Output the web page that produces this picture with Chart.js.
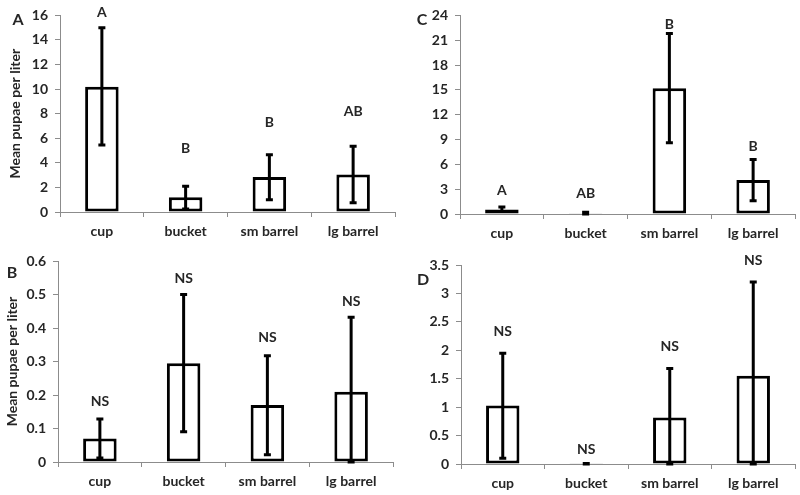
<!DOCTYPE html>
<html>
<head>
<meta charset="utf-8">
<script src="https://cdn.jsdelivr.net/npm/chart.js@4.4.0/dist/chart.umd.min.js"></script>
<style>
  body { margin: 0; background: #fff; }
  #wrap { position: relative; width: 800px; height: 495px; }
  .panel { position: absolute; }
</style>
</head>
<body>
<div id="wrap">
  <div class="panel" style="left:0;top:0;width:400px;height:245px"><canvas id="chartA"></canvas></div>
  <div class="panel" style="left:400px;top:0;width:400px;height:245px"><canvas id="chartC"></canvas></div>
  <div class="panel" style="left:0;top:245px;width:400px;height:250px"><canvas id="chartB"></canvas></div>
  <div class="panel" style="left:400px;top:245px;width:400px;height:250px"><canvas id="chartD"></canvas></div>
</div>
<script>
// categories shared by all four panels
const categories = ['cup', 'bucket', 'sm barrel', 'lg barrel'];

// panel A
const meansA = [10.2, 1.2, 2.85, 3.05];
const lowA = [5.45, 0.25, 1.0, 0.75];
const highA = [15.0, 2.1, 4.65, 5.35];
const lettersA = ['A', 'B', 'B', 'AB'];
const letterYA = [16.2, 5.2, 7.3, 8.2];

// panel B
const meansB = [0.07, 0.295, 0.17, 0.21];
const lowB = [0.012, 0.09, 0.022, 0.0];
const highB = [0.128, 0.5, 0.317, 0.432];
const lettersB = ['NS', 'NS', 'NS', 'NS'];
const letterYB = [0.182, 0.547, 0.373, 0.478];

// panel C
const meansC = [0.55, 0.08, 15.2, 4.1];
const lowC = [0.3, 0.0, 8.6, 1.6];
const highC = [0.85, 0.2, 21.8, 6.6];
const lettersC = ['A', 'AB', 'B', 'B'];
const letterYC = [2.9, 2.5, 22.9, 8.2];

// panel D
const meansD = [1.03, 0.005, 0.82, 1.55];
const lowD = [0.1, 0.0, 0.0, 0.0];
const highD = [1.95, 0.01, 1.68, 3.2];
const lettersD = ['NS', 'NS', 'NS', 'NS'];
const letterYD = [2.33, 0.25, 2.06, 3.58];

const axisGray = '#8c8c8c';
const textColor = '#262626';
const fontFamily = 'Lato, "Open Sans", sans-serif';

// draws error bars, letters above the bars and the panel letter
const extrasPlugin = {
  id: 'extras',
  afterDatasetsDraw(chart, args, opts) {
    const ctx = chart.ctx;
    const meta = chart.getDatasetMeta(0);
    const y = chart.scales.y;
    ctx.save();
    ctx.strokeStyle = '#000';
    ctx.lineWidth = 3;
    meta.data.forEach((bar, i) => {
      const x = bar.x;
      const yLo = y.getPixelForValue(opts.low[i]);
      const yHi = y.getPixelForValue(opts.high[i]);
      ctx.beginPath();
      ctx.moveTo(x, yLo);
      ctx.lineTo(x, yHi);
      ctx.moveTo(x - 3.5, yLo);
      ctx.lineTo(x + 3.5, yLo);
      ctx.moveTo(x - 3.5, yHi);
      ctx.lineTo(x + 3.5, yHi);
      ctx.stroke();
    });
    ctx.fillStyle = textColor;
    ctx.font = 'bold 14px ' + fontFamily;
    ctx.textAlign = 'center';
    ctx.textBaseline = 'middle';
    meta.data.forEach((bar, i) => {
      ctx.fillText(opts.letters[i], bar.x, y.getPixelForValue(opts.letterY[i]));
    });
    ctx.font = 'bold 16px ' + fontFamily;
    ctx.fillText(opts.panel, opts.panelX, opts.panelY);
    ctx.restore();
  }
};

function makePanel(id, cfg) {
  new Chart(document.getElementById(id), {
    type: 'bar',
    data: {
      labels: categories,
      datasets: [{
        data: cfg.means,
        backgroundColor: '#fff',
        borderColor: '#000',
        borderWidth: 3,
        borderSkipped: false,
        barPercentage: 0.4,
        categoryPercentage: 1.0
      }]
    },
    options: {
      responsive: true,
      maintainAspectRatio: false,
      animation: false,
      layout: { padding: cfg.padding },
      plugins: {
        legend: { display: false },
        tooltip: { enabled: false },
        extras: {
          low: cfg.low, high: cfg.high,
          letters: cfg.letters, letterY: cfg.letterY,
          panel: cfg.panel, panelX: cfg.panelX, panelY: cfg.panelY
        }
      },
      scales: {
        x: {
          afterFit: (s) => { s.height = cfg.xHeight; },
          grid: { offset: true, drawOnChartArea: false, color: axisGray, tickLength: 5 },
          border: { color: axisGray, width: 1 },
          ticks: { color: textColor, font: { family: fontFamily, size: 14, weight: 'bold' }, padding: 6 }
        },
        y: {
          min: 0,
          max: cfg.max,
          afterFit: (s) => { s.width = cfg.yWidth; },
          grid: { drawOnChartArea: false, color: axisGray, tickLength: 5 },
          border: { color: axisGray, width: 1 },
          ticks: {
            stepSize: cfg.step,
            color: textColor,
            font: { family: fontFamily, size: 14, weight: 'bold' },
            padding: 7,
            // Excel style: 0, 0.5, 1, 1.5 ... without trailing zeros
            callback: (v) => String(+Number(v).toFixed(2))
          },
          title: {
            display: !!cfg.yTitle,
            text: cfg.yTitle || '',
            color: textColor,
            font: { family: fontFamily, size: 14, weight: 'bold' },
            padding: { top: cfg.titlePad || 0, bottom: 0 }
          }
        }
      }
    },
    plugins: [extrasPlugin]
  });
}

makePanel('chartA', {
  means: meansA, low: lowA, high: highA, letters: lettersA, letterY: letterYA,
  max: 16, step: 2, yTitle: 'Mean pupae per liter', titlePad: 7,
  panel: 'A', panelX: 18, panelY: 20,
  padding: { top: 12, right: 5, left: 0, bottom: 0 }, xHeight: 33, yWidth: 60
});
makePanel('chartB', {
  means: meansB, low: lowB, high: highB, letters: lettersB, letterY: letterYB,
  max: 0.6, step: 0.1, yTitle: 'Mean pupae per liter', titlePad: 4,
  panel: 'B', panelX: 12, panelY: 28,
  padding: { top: 16, right: 7, left: 0, bottom: 0 }, xHeight: 33, yWidth: 58
});
makePanel('chartC', {
  means: meansC, low: lowC, high: highC, letters: lettersC, letterY: letterYC,
  max: 24, step: 3,
  panel: 'C', panelX: 22, panelY: 20,
  padding: { top: 7, right: 5, left: 0, bottom: 0 }, xHeight: 31, yWidth: 60
});
makePanel('chartD', {
  means: meansD, low: lowD, high: highD, letters: lettersD, letterY: letterYD,
  max: 3.5, step: 0.5,
  panel: 'D', panelX: 23, panelY: 35,
  padding: { top: 20, right: 5, left: 0, bottom: 0 }, xHeight: 31, yWidth: 61
});
</script>
</body>
</html>
